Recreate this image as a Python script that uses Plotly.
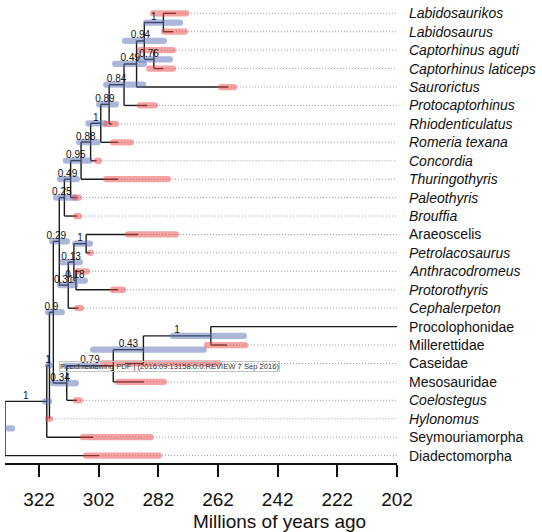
import plotly.graph_objects as go

# ---------------- data ----------------
tip_names = ["Labidosaurikos", "Labidosaurus", "Captorhinus aguti", "Captorhinus laticeps",
             "Saurorictus", "Protocaptorhinus", "Rhiodenticulatus", "Romeria texana",
             "Concordia", "Thuringothyris", "Paleothyris", "Brouffia", "Araeoscelis",
             "Petrolacosaurus", "Anthracodromeus", "Protorothyris", "Cephalerpeton",
             "Procolophonidae", "Millerettidae", "Caseidae", "Mesosauridae", "Coelostegus",
             "Hylonomus", "Seymouriamorpha", "Diadectomorpha"]
tip_italic = [1, 1, 1, 1, 1, 1, 1, 1, 1, 1, 1, 1, 0, 1, 1, 1, 1, 0, 0, 0, 0, 1, 1, 0, 0]
tip_ages = [276.1, 277.1, 283.1, 280.4, 258.6, 285.8, 297.5, 295.5, 302.7, 295.5, 309.3,
            309.3, 288.8, 304.9, 308.3, 295.5, 308.9, 202.0, 259.0, 293.2, 286.8, 309.3,
            318.5, 303.9, 301.9]
tip_old = [284.8, 281.1, 289.2, 286.1, 262.0, 289.2, 300.5, 298.2, 303.6, 300.5, 310.9,
           310.6, 293.2, 305.9, 310.3, 298.2, 310.3, None, 266.7, 301.6, 296.5, 310.6,
           320.0, 308.3, 307.3]
tip_young = [271.7, 272.1, 276.1, 276.1, 255.6, 282.1, 295.2, 290.2, 300.9, 277.8, 307.6,
             307.6, 275.1, 303.6, 304.9, 292.8, 306.9, None, 251.9, 260.7, 279.1, 307.3,
             317.3, 283.5, 280.8]

node_ids = ["A", "C", "B", "D", "E", "F", "G", "H", "I", "J", "K", "M", "Y", "X", "W", "N",
            "U", "V", "T", "S", "R", "Q", "P", "root"]
node_children = [(0, 1), (2, 3), ("A", "C"), ("B", 4), ("D", 5), ("E", 6), ("F", 7), ("G", 8),
                 ("H", 9), ("I", 10), ("J", 11), (12, 13), (14, 15), ("M", "Y"), ("X", 16),
                 ("K", "W"), (17, 18), ("U", 19), ("V", 20), ("T", 21), ("N", "S"), ("R", 22),
                 ("Q", 23), ("P", 24)]
node_ages = [280.3, 283.5, 286.7, 289.3, 293.5, 298.5, 301.3, 304.7, 307.9, 311.4, 313.5,
             306.2, 309.6, 310.3, 312.2, 315.2, 264.4, 287.0, 297.1, 312.7, 317.2, 318.5,
             319.4, 333.4]
node_support = ["1", "0.76", "0.94", "0.49", "0.84", "0.89", "1", "0.88", "0.95", "0.49",
                "0.25", "1", "0.18", "0.13", "0.31", "0.29", "1", "0.43", "0.79", "0.34",
                "0.9", "1", "1", ""]
node_old = [287.1, 289.2, 294.2, 297.5, 300.5, 302.9, 306.5, 309.6, 314.0, 316.0, 317.3,
            310.9, 310.9, 315.3, 316.0, 318.6, 278.1, 304.9, 314.3, 318.3, 320.0, 320.0,
            321.0, 333.4]
node_young = [273.7, 277.1, 279.1, 285.8, 286.1, 295.2, 299.0, 301.3, 303.9, 308.3, 308.9,
              303.9, 305.6, 307.3, 308.9, 311.6, 252.3, 265.7, 301.6, 308.6, 313.3, 317.3,
              317.6, 330.0]

tick_vals = [322, 302, 282, 262, 242, 222, 202]
x_title = "Millions of years ago"
watermark = "PeerJ reviewing PDF | (2016:09:13158:0:0:REVIEW 7 Sep 2016)"

# ---------------- tree geometry ----------------
age_of = {i: a for i, a in enumerate(tip_ages)}
age_of.update({n: a for n, a in zip(node_ids, node_ages)})
kids = dict(zip(node_ids, node_children))
parent = {}
for n, ch in kids.items():
    for c in ch:
        parent[c] = n

ypos = {i: float(i) for i in range(len(tip_names))}


def get_y(k):
    if k not in ypos:
        ch = kids[k]
        ypos[k] = sum(get_y(c) for c in ch) / len(ch)
    return ypos[k]


for n in node_ids:
    get_y(n)

bx, by = [], []
for k in list(range(len(tip_names))) + node_ids:
    if k in parent:
        bx += [age_of[parent[k]], age_of[k], None]
        by += [ypos[k], ypos[k], None]
for n in node_ids:
    c1, c2 = kids[n]
    bx += [age_of[n], age_of[n], None]
    by += [ypos[c1], ypos[c2], None]

dx, dy = [], []
for i, a in enumerate(tip_ages):
    if a > tick_vals[-1]:
        dx += [a, tick_vals[-1], None]
        dy += [i, i, None]

FONT = "Arial, Liberation Sans, Helvetica, sans-serif"
fig = go.Figure()

fig.add_trace(go.Scatter(x=dx, y=dy, mode="lines", hoverinfo="skip",
                         line=dict(color="#9a9a9a", width=1, dash="1px,2px")))
fig.add_trace(go.Scatter(x=bx, y=by, mode="lines", hoverinfo="skip",
                         line=dict(color="#1a1a1a", width=1.4)))

# uncertainty bars (overlay subplot so they sit above the branches)
nb_y = [ypos[n] for n in node_ids]
fig.add_trace(go.Bar(orientation="h", y=nb_y, base=node_young,
                     x=[o - y for o, y in zip(node_old, node_young)],
                     width=0.34, marker=dict(color="rgba(90,110,180,0.5)", cornerradius=3,
                                             line=dict(width=0)),
                     xaxis="x2", yaxis="y2", hoverinfo="skip"))
tr_y = [i for i, o in enumerate(tip_old) if o is not None]
fig.add_trace(go.Bar(orientation="h", y=tr_y, base=[tip_young[i] for i in tr_y],
                     x=[tip_old[i] - tip_young[i] for i in tr_y],
                     width=0.34, marker=dict(color="rgba(238,70,70,0.5)", cornerradius=3,
                                             line=dict(width=0)),
                     xaxis="x2", yaxis="y2", hoverinfo="skip"))

# support values at branch midpoints
lx, ly, lt = [], [], []
for n, s in zip(node_ids, node_support):
    if s and n in parent:
        lx.append((age_of[parent[n]] + age_of[n]) / 2)
        ly.append(ypos[n])
        lt.append(s)
fig.add_trace(go.Scatter(x=lx, y=ly, text=lt, mode="text", textposition="top center",
                         textfont=dict(family=FONT, size=10, color="#111"),
                         xaxis="x2", yaxis="y2", hoverinfo="skip"))

ann = []
for i, (nm, it) in enumerate(zip(tip_names, tip_italic)):
    ann.append(dict(x=tick_vals[-1], y=i, xref="x", yref="y", xanchor="left",
                    yanchor="middle", xshift=10, showarrow=False,
                    text=f"<i>{nm}</i>" if it else nm,
                    font=dict(family=FONT, size=14, color="#111")))
ann.append(dict(x=0.7015, y=-0.127, xref="paper", yref="paper", xanchor="center",
                yanchor="middle", showarrow=False, text=x_title,
                font=dict(family=FONT, size=19, color="#111")))
ann.append(dict(x=0.1385, y=0.2095, xref="paper", yref="paper", xanchor="left",
                yanchor="middle", showarrow=False, text=watermark,
                bordercolor="#c4c4c4", borderwidth=1, borderpad=0,
                font=dict(family=FONT, size=7.6, color="#333")))

xr = [333.4, 202]
yr = [24.40, -0.722]
fig.update_layout(
    width=542, height=532, margin=dict(l=5, r=145, t=0, b=69),
    plot_bgcolor="white", paper_bgcolor="white", showlegend=False,
    barmode="overlay", annotations=ann,
    xaxis=dict(range=xr, tickvals=tick_vals, ticktext=[str(v) for v in tick_vals],
               ticks="outside", ticklen=12, tickwidth=1.5, tickcolor="#111",
               showline=True, linecolor="#111", linewidth=1.5, showgrid=False,
               zeroline=False, ticklabelstandoff=6, automargin=False,
               tickfont=dict(family=FONT, size=19, color="#111")),
    yaxis=dict(range=yr, visible=False, automargin=False),
    xaxis2=dict(range=xr, overlaying="x", visible=False),
    yaxis2=dict(range=yr, overlaying="y", visible=False),
)

fig.write_html("out.html", config={"displayModeBar": False},
               post_script="document.body.style.margin='0px';document.body.style.padding='0px';")
